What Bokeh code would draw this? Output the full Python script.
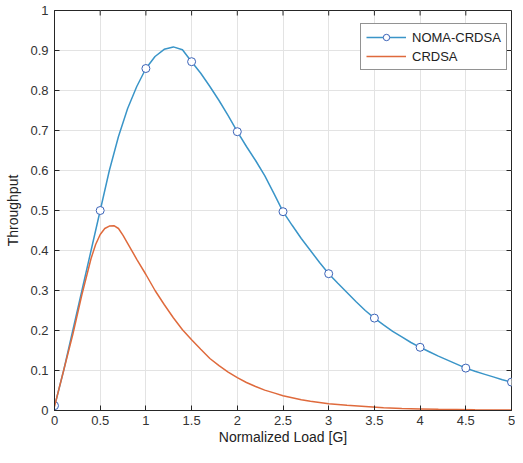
import math
from bokeh.plotting import figure
from bokeh.models import Range1d, FixedTicker, Legend, LegendItem
from bokeh.embed import file_html
from bokeh.resources import INLINE

load = [0.0, 0.1, 0.2, 0.3, 0.4, 0.5, 0.6, 0.7, 0.8, 0.9, 1.0, 1.1, 1.2, 1.3, 1.4, 1.5,
        1.6, 1.7, 1.8, 1.9, 2.0, 2.1, 2.2, 2.3, 2.4, 2.5, 2.6, 2.7, 2.8, 2.9, 3.0,
        3.1, 3.2, 3.3, 3.4, 3.5, 3.6, 3.7, 3.8, 3.9, 4.0, 4.1, 4.2, 4.3, 4.4, 4.5,
        4.6, 4.7, 4.8, 4.9, 5.0]
noma_crdsa = [0.01, 0.10, 0.20, 0.30, 0.40, 0.50, 0.60, 0.685, 0.755, 0.81, 0.855, 0.885,
              0.903, 0.909, 0.902, 0.872, 0.843, 0.81, 0.775, 0.737, 0.697, 0.66, 0.625,
              0.587, 0.543, 0.497, 0.463, 0.43, 0.40, 0.37, 0.342, 0.318, 0.295, 0.272,
              0.25, 0.231, 0.214, 0.198, 0.184, 0.17, 0.158, 0.147, 0.136, 0.126, 0.116,
              0.106, 0.098, 0.091, 0.084, 0.077, 0.071]
crdsa_load = [0.0, 0.1, 0.2, 0.3, 0.4, 0.45, 0.5, 0.55, 0.6, 0.65, 0.7, 0.75, 0.8, 0.9,
              1.0, 1.1, 1.2, 1.3, 1.4, 1.5, 1.6, 1.7, 1.8, 1.9, 2.0, 2.1, 2.2, 2.3, 2.4,
              2.5, 2.6, 2.7, 2.8, 2.9, 3.0, 3.2, 3.4, 3.6, 3.8, 4.0, 4.2, 4.4, 4.6, 4.8, 5.0]
crdsa = [0.01, 0.10, 0.19, 0.29, 0.38, 0.415, 0.44, 0.455, 0.461, 0.462, 0.455, 0.438,
         0.418, 0.378, 0.34, 0.30, 0.265, 0.232, 0.202, 0.177, 0.153, 0.13, 0.112, 0.096,
         0.082, 0.07, 0.06, 0.051, 0.044, 0.037, 0.032, 0.027, 0.023, 0.02, 0.017, 0.013,
         0.01, 0.007, 0.005, 0.004, 0.003, 0.0025, 0.0018, 0.0014, 0.001]
marker_load = [0.0, 0.5, 1.0, 1.5, 2.0, 2.5, 3.0, 3.5, 4.0, 4.5, 5.0]
marker_noma = [0.012, 0.50, 0.855, 0.872, 0.697, 0.497, 0.342, 0.231, 0.158, 0.106, 0.071]
x_ticks = [0, 0.5, 1, 1.5, 2, 2.5, 3, 3.5, 4, 4.5, 5]
y_ticks = [0, 0.1, 0.2, 0.3, 0.4, 0.5, 0.6, 0.7, 0.8, 0.9, 1]

BLUE = "#3a95c8"
ORANGE = "#df6a3c"
AX = "#262626"
FONT = "Liberation Sans"

X0, X1, Y0, Y1 = 0, 5, 0, 1
p = figure(width=515, height=447, output_backend="svg", toolbar_location=None,
           x_range=Range1d(X0, X1), y_range=Range1d(Y0, Y1),
           min_border_left=54, min_border_right=4, min_border_top=10, min_border_bottom=34)
p.xaxis.ticker = FixedTicker(ticks=x_ticks)
p.yaxis.ticker = FixedTicker(ticks=y_ticks)
p.xaxis.major_label_overrides = {0: "0", 1: "1", 2: "2", 3: "3", 4: "4", 5: "5"}
p.yaxis.major_label_overrides = {0: "0", 1: "1"}
for ax in (p.xaxis[0], p.yaxis[0]):
    ax.axis_line_color = AX
    ax.major_tick_line_color = AX
    ax.major_tick_in = 5
    ax.major_tick_out = 0
    ax.minor_tick_line_color = None
    ax.major_label_text_font = FONT
    ax.major_label_text_font_size = "13px"
    ax.major_label_text_color = "#333333"
    ax.axis_label_text_font = FONT
    ax.axis_label_text_font_size = "14px"
    ax.axis_label_text_font_style = "normal"
    ax.axis_label_text_color = "#222222"
p.xaxis.axis_label = "Normalized Load [G]"
p.yaxis.axis_label = "Throughput"
p.xaxis.major_label_standoff = 5
p.yaxis.major_label_standoff = 6
p.xaxis.axis_label_standoff = 1
p.yaxis.axis_label_standoff = 6

p.xgrid.grid_line_color = "#e3e3e3"
p.ygrid.grid_line_color = "#e3e3e3"
p.outline_line_color = AX

# inner ticks on the top and right edges (box on)
p.ray(x=x_ticks, y=[Y1] * len(x_ticks), length=5, length_units="screen",
      angle=-math.pi / 2, line_color=AX, line_width=1)
p.ray(x=[X1] * len(y_ticks), y=y_ticks, length=5, length_units="screen",
      angle=math.pi, line_color=AX, line_width=1)

r_noma = p.line(load, noma_crdsa, line_color=BLUE, line_width=1.5)
r_mark = p.scatter(marker_load, marker_noma, marker="circle", size=8, fill_color="white",
                   line_color="#3b63b8", line_width=1)
r_crdsa = p.line(crdsa_load, crdsa, line_color=ORANGE, line_width=1.5)

legend = Legend(items=[LegendItem(label="NOMA-CRDSA", renderers=[r_noma, r_mark]),
                       LegendItem(label="CRDSA", renderers=[r_crdsa])],
                location=(306, 340), label_text_font=FONT, label_text_font_size="13px",
                label_text_color="#222222", border_line_color=AX, border_line_width=1,
                glyph_width=40, glyph_height=16, label_height=16, spacing=3,
                padding=5, margin=0, label_standoff=6, background_fill_alpha=1)
p.add_layout(legend, "center")

open("out.html", "w").write(file_html(p, INLINE))
